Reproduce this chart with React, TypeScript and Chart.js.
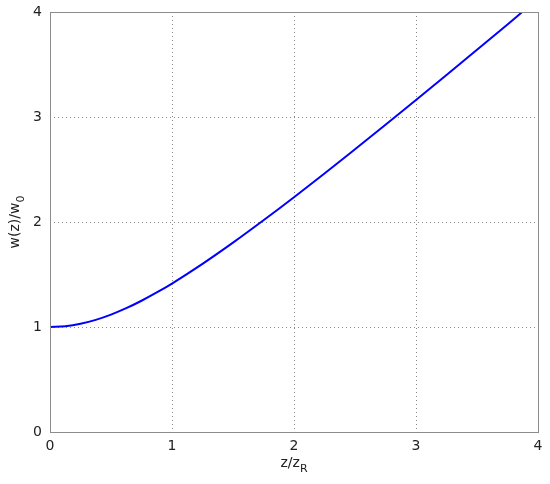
import React, { useEffect, useRef } from "react";
import { Chart, registerables } from "chart.js";

Chart.register(...registerables);

const zValues = [0, 0.125, 0.25, 0.375, 0.5, 0.625, 0.75, 0.875, 1, 1.25, 1.5, 1.75, 2, 2.25, 2.5, 2.75, 3, 3.25, 3.5, 3.75, 3.87];
const wValues = [1.0, 1.008, 1.031, 1.068, 1.118, 1.179, 1.25, 1.329, 1.414, 1.601, 1.803, 2.016, 2.236, 2.462, 2.693, 2.926, 3.162, 3.4, 3.64, 3.881, 4.0];
const xTicks = [0, 1, 2, 3, 4];
const yTicks = [0, 1, 2, 3, 4];

const FONT = "DejaVu Sans";

const framePlugin = {
  id: "frame",
  afterDraw(chart: any) {
    const { ctx, chartArea } = chart;
    const { left, right, top, bottom } = chartArea;
    ctx.save();
    ctx.strokeStyle = "#8c8c8c";
    ctx.lineWidth = 1;
    ctx.strokeRect(left + 0.5, top + 0.5, right - left, bottom - top);
    ctx.fillStyle = "#222";
    ctx.textBaseline = "alphabetic";
    const main = `14px "${FONT}"`;
    const sub = `11px "${FONT}"`;
    ctx.font = main;
    const xa = "z/z";
    const wa = ctx.measureText(xa).width;
    ctx.font = sub;
    const wb = ctx.measureText("R").width;
    const cx = (left + right) / 2;
    const x0 = cx - (wa + wb) / 2;
    ctx.font = main;
    ctx.textAlign = "left";
    ctx.fillText(xa, x0, 467);
    ctx.font = sub;
    ctx.fillText("R", x0 + wa, 472);
    ctx.translate(19, (top + bottom) / 2);
    ctx.rotate(-Math.PI / 2);
    ctx.font = main;
    const ya = "w(z)/w";
    const wya = ctx.measureText(ya).width;
    ctx.font = sub;
    const wyb = ctx.measureText("0").width;
    const y0 = -(wya + wyb) / 2;
    ctx.font = main;
    ctx.fillText(ya, y0, 0);
    ctx.font = sub;
    ctx.fillText("0", y0 + wya, 5);
    ctx.restore();
  },
};

export default function App() {
  const ref = useRef<HTMLCanvasElement | null>(null);
  useEffect(() => {
    document.body.style.margin = "0";
    const data = zValues.map((z, i) => ({ x: z, y: wValues[i] }));
    const chart = new Chart(ref.current as HTMLCanvasElement, {
      type: "line",
      data: {
        datasets: [
          {
            data,
            borderColor: "#0000ff",
            borderWidth: 2,
            pointRadius: 0,
            fill: false,
            cubicInterpolationMode: "monotone",
          },
        ],
      },
      plugins: [framePlugin],
      options: {
        animation: false,
        responsive: false,
        maintainAspectRatio: false,
        layout: { padding: { left: 0, top: 12, right: 12, bottom: 0 } },
        plugins: { legend: { display: false }, tooltip: { enabled: false } },
        scales: {
          x: {
            type: "linear",
            min: 0,
            max: 4,
            afterBuildTicks: (s: any) => {
              s.ticks = xTicks.map((v) => ({ value: v }));
            },
            afterFit: (s: any) => {
              s.height = 52;
              s.paddingLeft = 0;
              s.paddingRight = 0;
            },
            grid: { color: "#888", lineWidth: 1, drawTicks: false },
            border: { display: false, dash: [1, 3] },
            ticks: {
              padding: 6,
              color: "#222",
              font: { family: FONT, size: 14 },
            },
          },
          y: {
            type: "linear",
            min: 0,
            max: 4,
            afterBuildTicks: (s: any) => {
              s.ticks = yTicks.map((v) => ({ value: v }));
            },
            afterFit: (s: any) => {
              s.width = 50;
              s.paddingTop = 0;
              s.paddingBottom = 0;
            },
            grid: { color: "#888", lineWidth: 1, drawTicks: false },
            border: { display: false, dash: [1, 3] },
            ticks: {
              padding: 8,
              color: "#222",
              font: { family: FONT, size: 14 },
            },
          },
        },
      },
    } as any);
    return () => chart.destroy();
  }, []);
  return (
    <div style={{ width: 550, height: 484 }}>
      <canvas ref={ref} width={550} height={484} style={{ display: "block" }} />
    </div>
  );
}
